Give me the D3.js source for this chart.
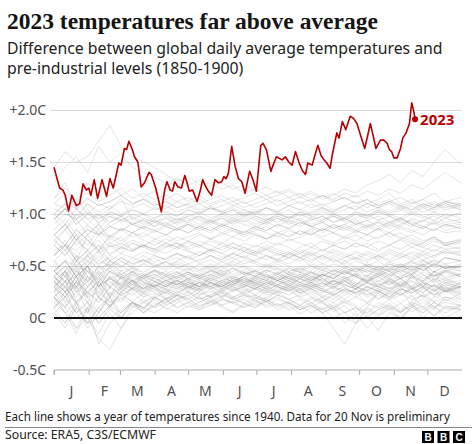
<!DOCTYPE html>
<html><head><meta charset="utf-8">
<script src="https://cdn.jsdelivr.net/npm/d3@7"></script>
<style>body{margin:0;background:#fff} svg{display:block}</style>
</head><body>
<svg id="c" width="474" height="444"></svg>
<script>
// ---------- DATA ----------
const months = ["J","F","M","A","M","J","J","A","S","O","N","D"];
const monthStartDays = [0,31,59,90,120,151,181,212,243,273,304,334];
const yTicks = [-0.5, 0, 0.5, 1.0, 1.5, 2.0];
const yTickLabels = ["-0.5C","0C","+0.5C","+1.0C","+1.5C","+2.0C"];

// 2023 (day of year, anomaly °C)
const days2023 = [0,3,5,8,10,13,16,20,23,26,29,31,33,36,39,43,47,50,53,58,60,63,65,67,70,72,75,78,81,85,87,91,96,99,101,104,106,108,111,114,117,119,121,124,128,131,133,135,138,141,144,147,150,152,154,156,159,162,165,168,171,175,178,181,185,187,190,194,196,199,204,207,210,213,216,219,222,225,227,231,233,236,239,241,244,247,249,253,255,258,261,265,268,271,275,278,283,286,288,292,295,298,300,302,304,307,310,312,315,318,320,322,323];
const values2023 = [1.45,1.33,1.25,1.23,1.18,1.03,1.18,1.08,1.10,1.29,1.23,1.25,1.18,1.33,1.15,1.33,1.17,1.34,1.25,1.49,1.47,1.63,1.62,1.70,1.62,1.55,1.50,1.26,1.30,1.40,1.38,1.25,1.02,1.23,1.31,1.23,1.22,1.31,1.26,1.25,1.37,1.30,1.22,1.23,1.12,1.23,1.33,1.28,1.22,1.18,1.33,1.30,1.31,1.36,1.34,1.39,1.65,1.46,1.34,1.31,1.20,1.41,1.33,1.22,1.66,1.68,1.62,1.41,1.47,1.55,1.52,1.55,1.50,1.47,1.60,1.50,1.42,1.38,1.49,1.47,1.55,1.66,1.56,1.53,1.49,1.44,1.57,1.78,1.73,1.89,1.81,1.94,1.92,1.87,1.73,1.63,1.87,1.73,1.63,1.71,1.71,1.68,1.62,1.60,1.54,1.54,1.63,1.73,1.78,1.87,2.07,1.98,1.91];

// earlier years 1940-2022, sampled roughly every ten days (estimated)
const greyDays = [0,10,20,30,40,50,60,70,80,90,100,110,120,130,140,150,160,170,180,190,200,210,220,230,240,250,260,270,280,290,300,310,320,330,340,350,364];
const greyYears = [1940,1941,1944,1945,1950,1951,1953,1956,1958,1961,1963,1964,1965,1968,1971,1973,1974,1976,1978,1979,1981,1983,1985,1987,1988,1990,1995,1998,2002,2005,2007,2010,2015,2016,2017,2019,2020,2021,2022,
  1942,1943,1946,1947,1948,1949,1952,1954,1955,1957,1959,1960,1962,1966,1967,1969,1970,1972,1975,1977,1980,1982,1984,1986,1989,1991,1992,1993,1994,1996,1997,1999,2000,2001,2003,2004,2006,2008,2009,2011,2012,2013,2014,2018];
const greyValues = [
[0.30,0.45,0.15,0.05,0.35,0.20,0.40,0.30,0.25,0.35,0.30,0.40,0.35,0.30,0.42,0.38,0.35,0.40,0.45,0.38,0.42,0.36,0.40,0.45,0.38,0.30,0.35,0.42,0.40,0.48,0.45,0.50,0.42,0.55,0.48,0.52,0.45],
[0.55,0.40,0.60,0.35,0.50,0.45,0.30,0.42,0.38,0.45,0.40,0.35,0.42,0.38,0.45,0.40,0.48,0.42,0.45,0.40,0.38,0.44,0.40,0.36,0.42,0.38,0.45,0.40,0.35,0.42,0.38,0.30,0.40,0.35,0.45,0.38,0.42],
[0.40,0.25,0.35,0.50,0.30,0.45,0.38,0.28,0.42,0.35,0.40,0.45,0.38,0.42,0.48,0.40,0.45,0.50,0.42,0.46,0.52,0.45,0.48,0.42,0.50,0.45,0.55,0.48,0.40,0.50,0.45,0.38,0.48,0.42,0.35,0.45,0.40],
[0.40,0.30,0.45,0.35,0.50,0.38,0.42,0.35,0.40,0.45,0.38,0.42,0.48,0.40,0.45,0.50,0.42,0.46,0.40,0.44,0.48,0.42,0.46,0.40,0.35,0.42,0.38,0.32,0.40,0.35,0.42,0.38,0.30,0.36,0.28,0.34,0.30],
[0.10,-0.05,0.15,-0.10,0.05,0.20,0.00,0.15,0.10,0.20,0.12,0.18,0.22,0.15,0.20,0.25,0.18,0.22,0.20,0.15,0.22,0.18,0.12,0.20,0.15,0.10,0.18,0.12,0.05,0.15,0.10,0.00,0.12,0.05,0.15,0.08,0.10],
[0.05,-0.05,0.10,0.00,-0.15,0.05,-0.10,0.10,0.15,0.20,0.25,0.18,0.22,0.28,0.20,0.26,0.30,0.22,0.28,0.24,0.30,0.26,0.20,0.15,0.05,-0.10,-0.25,-0.05,0.10,0.25,0.35,0.30,0.40,0.35,0.45,0.40,0.42],
[0.30,0.40,0.25,0.35,0.45,0.30,0.38,0.32,0.40,0.35,0.30,0.36,0.32,0.38,0.34,0.30,0.36,0.40,0.34,0.38,0.32,0.36,0.30,0.34,0.38,0.32,0.36,0.30,0.26,0.32,0.28,0.35,0.30,0.25,0.32,0.28,0.30],
[0.15,0.05,-0.10,0.10,-0.05,0.08,0.00,0.15,0.05,0.12,0.18,0.10,0.15,0.20,0.12,0.18,0.15,0.20,0.22,0.16,0.20,0.14,0.18,0.12,0.08,0.15,0.05,0.10,0.00,0.08,0.12,0.05,0.15,0.10,0.02,0.12,0.08],
[0.45,0.55,0.40,0.50,0.35,0.45,0.40,0.35,0.42,0.38,0.32,0.36,0.30,0.34,0.38,0.32,0.28,0.34,0.30,0.26,0.32,0.28,0.34,0.30,0.26,0.22,0.28,0.24,0.30,0.26,0.22,0.28,0.24,0.30,0.26,0.32,0.28],
[0.25,0.35,0.20,0.40,0.30,0.38,0.32,0.28,0.34,0.30,0.36,0.32,0.28,0.34,0.30,0.36,0.32,0.38,0.34,0.30,0.36,0.32,0.38,0.34,0.30,0.36,0.32,0.28,0.34,0.30,0.26,0.32,0.28,0.34,0.30,0.26,0.30],
[0.20,0.10,-0.10,0.00,-0.20,-0.30,-0.10,0.05,0.15,0.10,0.20,0.15,0.25,0.18,0.22,0.28,0.20,0.25,0.30,0.24,0.28,0.32,0.26,0.30,0.34,0.28,0.35,0.30,0.38,0.32,0.36,0.30,0.35,0.28,0.32,0.25,0.30],
[0.35,0.25,0.30,0.20,0.25,0.15,0.20,0.12,0.18,0.10,0.15,0.22,0.18,0.12,0.15,0.20,0.14,0.18,0.12,0.16,0.10,0.14,0.08,0.12,0.05,0.10,-0.05,0.05,-0.10,0.02,0.08,-0.02,0.10,0.05,0.12,0.00,0.08],
[0.05,0.15,0.00,0.10,0.20,0.12,0.18,0.25,0.15,0.22,0.28,0.20,0.25,0.18,0.22,0.26,0.20,0.24,0.28,0.22,0.26,0.30,0.24,0.28,0.22,0.18,0.26,0.20,0.15,0.24,0.18,0.22,0.28,0.20,0.25,0.30,0.22],
[0.20,0.05,-0.15,0.10,-0.25,-0.05,0.05,0.15,0.08,0.20,0.15,0.22,0.18,0.25,0.20,0.24,0.18,0.22,0.16,0.20,0.25,0.18,0.22,0.26,0.20,0.15,0.22,0.28,0.20,0.25,0.30,0.22,0.28,0.24,0.32,0.25,0.30],
[0.15,0.25,0.05,-0.05,0.10,0.00,0.08,0.15,0.05,0.12,0.18,0.10,0.15,0.08,0.12,0.18,0.14,0.10,0.16,0.12,0.18,0.14,0.10,0.15,0.08,0.12,0.05,0.10,0.02,0.08,0.14,0.06,0.12,0.18,0.10,0.15,0.12],
[0.40,0.50,0.45,0.55,0.48,0.52,0.45,0.50,0.42,0.46,0.40,0.44,0.38,0.42,0.36,0.40,0.34,0.38,0.32,0.36,0.30,0.34,0.28,0.32,0.26,0.30,0.24,0.28,0.22,0.26,0.20,0.24,0.18,0.22,0.15,0.20,0.18],
[0.05,-0.10,0.10,-0.05,0.00,0.12,0.05,0.15,0.10,0.05,0.12,0.18,0.10,0.15,0.20,0.12,0.16,0.10,0.14,0.18,0.12,0.15,0.08,0.12,0.05,0.10,0.00,-0.05,0.08,0.02,0.10,0.05,0.12,0.08,0.15,0.10,0.12],
[0.10,0.20,0.05,0.15,-0.05,0.10,0.00,0.12,0.05,0.15,0.10,0.05,0.12,0.08,0.15,0.10,0.05,0.12,0.18,0.10,0.14,0.08,0.12,0.05,0.10,0.00,0.06,-0.05,0.02,-0.12,0.05,0.00,0.10,0.15,0.08,0.20,0.15],
[0.45,0.35,0.55,0.40,0.30,0.45,0.38,0.42,0.35,0.40,0.45,0.38,0.42,0.36,0.40,0.44,0.38,0.35,0.40,0.36,0.42,0.38,0.34,0.40,0.36,0.32,0.38,0.42,0.35,0.40,0.45,0.38,0.42,0.48,0.40,0.45,0.50],
[0.20,0.10,0.25,0.15,0.05,0.20,0.28,0.22,0.30,0.25,0.32,0.28,0.34,0.30,0.36,0.32,0.38,0.34,0.36,0.40,0.36,0.42,0.38,0.44,0.40,0.46,0.42,0.48,0.44,0.50,0.46,0.52,0.48,0.55,0.50,0.58,0.55],
[0.60,0.75,0.55,0.65,0.50,0.60,0.55,0.48,0.52,0.58,0.50,0.55,0.60,0.52,0.56,0.50,0.55,0.60,0.54,0.50,0.56,0.52,0.58,0.50,0.46,0.52,0.48,0.55,0.50,0.45,0.52,0.48,0.55,0.60,0.52,0.58,0.55],
[0.75,0.65,0.80,0.70,0.85,0.72,0.78,0.65,0.70,0.62,0.68,0.72,0.65,0.60,0.66,0.62,0.58,0.64,0.60,0.56,0.62,0.58,0.55,0.60,0.52,0.58,0.50,0.45,0.52,0.48,0.40,0.50,0.55,0.45,0.52,0.48,0.50],
[0.40,0.30,0.45,0.35,0.25,0.40,0.32,0.45,0.38,0.42,0.36,0.40,0.44,0.38,0.42,0.46,0.40,0.44,0.38,0.42,0.36,0.40,0.44,0.38,0.42,0.35,0.40,0.32,0.38,0.42,0.36,0.40,0.45,0.38,0.42,0.36,0.40],
[0.45,0.55,0.50,0.60,0.52,0.58,0.50,0.55,0.60,0.54,0.58,0.62,0.56,0.60,0.65,0.58,0.62,0.68,0.64,0.70,0.66,0.62,0.68,0.72,0.65,0.70,0.74,0.68,0.72,0.66,0.70,0.75,0.68,0.72,0.78,0.70,0.74],
[0.80,0.70,0.85,0.75,0.65,0.78,0.70,0.82,0.75,0.70,0.76,0.72,0.68,0.74,0.70,0.65,0.72,0.68,0.62,0.66,0.60,0.64,0.58,0.62,0.56,0.60,0.55,0.58,0.50,0.55,0.48,0.52,0.45,0.50,0.55,0.48,0.52],
[0.60,0.70,0.55,0.80,0.65,0.72,0.68,0.75,0.70,0.66,0.72,0.68,0.74,0.70,0.65,0.72,0.68,0.64,0.70,0.66,0.72,0.68,0.62,0.68,0.64,0.70,0.66,0.72,0.68,0.74,0.70,0.76,0.72,0.68,0.74,0.70,0.72],
[0.70,0.85,0.95,0.80,0.90,0.75,0.85,0.78,0.82,0.76,0.80,0.74,0.78,0.82,0.76,0.80,0.84,0.78,0.82,0.76,0.80,0.74,0.78,0.82,0.76,0.72,0.78,0.74,0.80,0.76,0.82,0.78,0.74,0.70,0.76,0.72,0.75],
[0.95,1.05,1.15,1.00,1.10,1.05,1.12,1.08,1.15,1.10,1.05,1.12,1.08,1.02,1.06,1.00,1.04,0.98,1.02,0.96,0.92,0.98,0.94,0.88,0.92,0.86,0.90,0.84,0.80,0.86,0.78,0.82,0.76,0.72,0.78,0.70,0.74],
[0.90,1.00,0.95,1.10,0.98,1.05,1.15,0.95,1.00,0.92,0.96,0.90,0.94,0.98,0.92,0.96,0.90,0.94,0.88,0.92,0.96,0.90,0.94,0.88,0.92,0.86,0.90,0.94,0.88,0.92,0.86,0.90,0.94,0.88,0.84,0.90,0.86],
[0.95,0.85,1.00,0.90,0.80,0.92,0.98,0.90,0.94,0.88,0.96,0.92,0.98,0.94,0.90,0.96,0.92,0.98,0.94,0.90,0.96,0.92,0.88,0.94,0.98,0.92,0.96,0.90,0.94,0.98,0.92,0.96,0.90,0.94,0.98,0.92,0.95],
[1.15,1.30,1.05,0.95,1.00,0.92,0.98,0.90,0.95,0.88,0.92,0.86,0.90,0.84,0.88,0.82,0.86,0.80,0.84,0.88,0.82,0.86,0.80,0.84,0.78,0.82,0.76,0.80,0.74,0.78,0.82,0.76,0.80,0.74,0.78,0.72,0.76],
[1.00,1.10,1.05,1.15,1.08,1.12,1.18,1.10,1.14,1.08,1.12,1.06,1.10,1.04,1.08,1.02,1.06,1.00,1.04,0.98,1.02,0.96,1.00,0.94,0.98,0.92,0.96,0.90,0.94,0.88,0.92,0.96,0.90,0.86,0.92,0.84,0.88],
[0.95,1.05,0.98,1.10,1.02,1.08,1.00,1.06,1.10,1.04,1.08,1.02,1.06,1.10,1.04,1.08,1.12,1.06,1.10,1.14,1.08,1.12,1.16,1.20,1.14,1.18,1.24,1.20,1.28,1.32,1.38,1.30,1.42,1.36,1.50,1.62,1.48],
[1.45,1.60,1.50,1.55,1.70,1.85,1.65,1.55,1.50,1.45,1.38,1.32,1.36,1.28,1.30,1.24,1.28,1.20,1.24,1.18,1.22,1.16,1.20,1.14,1.18,1.12,1.16,1.10,1.14,1.08,1.12,1.16,1.10,1.14,1.20,1.12,1.16],
[1.15,1.25,1.10,1.30,1.20,1.28,1.18,1.24,1.16,1.22,1.14,1.20,1.12,1.18,1.10,1.14,1.08,1.12,1.06,1.10,1.14,1.08,1.12,1.06,1.10,1.04,1.08,1.12,1.06,1.10,1.14,1.08,1.12,1.06,1.10,1.04,1.08],
[1.10,1.05,1.15,1.20,1.12,1.18,1.25,1.15,1.20,1.14,1.18,1.12,1.16,1.10,1.14,1.18,1.12,1.16,1.20,1.14,1.18,1.22,1.16,1.12,1.18,1.14,1.20,1.16,1.22,1.18,1.24,1.20,1.28,1.24,1.32,1.40,1.30],
[1.30,1.45,1.55,1.40,1.65,1.50,1.58,1.45,1.40,1.35,1.30,1.34,1.28,1.32,1.26,1.30,1.24,1.28,1.22,1.26,1.20,1.24,1.18,1.22,1.16,1.20,1.14,1.18,1.10,1.14,1.20,1.10,1.14,1.08,1.12,1.06,1.10],
[1.05,1.00,0.95,1.02,0.96,1.00,0.94,0.98,0.92,0.96,1.00,0.94,0.98,1.02,0.96,1.00,1.04,0.98,1.02,1.06,1.00,1.04,0.98,1.02,1.06,1.00,1.04,1.08,1.02,1.06,1.10,1.04,1.08,1.02,1.06,1.10,1.04],
[1.10,1.20,1.05,1.15,1.08,1.12,1.18,1.10,1.14,1.08,1.12,1.06,1.10,1.14,1.08,1.12,1.16,1.10,1.14,1.18,1.12,1.16,1.10,1.14,1.08,1.12,1.16,1.10,1.14,1.08,1.12,1.06,1.10,1.14,1.08,1.12,1.10],
[0.25,0.45,0.30,0.50,0.20,0.40,0.28,0.45,0.35,0.30,0.42,0.32,0.38,0.28,0.40,0.34,0.30,0.42,0.36,0.32,0.40,0.30,0.38,0.44,0.34,0.28,0.38,0.32,0.42,0.30,0.36,0.26,0.40,0.30,0.45,0.25,0.35],
[0.40,0.28,0.48,0.22,0.38,0.30,0.46,0.36,0.28,0.40,0.32,0.44,0.36,0.30,0.38,0.42,0.34,0.30,0.40,0.36,0.44,0.38,0.32,0.36,0.42,0.38,0.46,0.40,0.34,0.44,0.38,0.48,0.40,0.52,0.36,0.46,0.40],
[0.35,0.20,0.40,0.15,0.30,0.10,0.25,0.35,0.22,0.30,0.18,0.26,0.32,0.22,0.28,0.20,0.26,0.30,0.22,0.18,0.26,0.22,0.28,0.20,0.16,0.24,0.18,0.26,0.14,0.22,0.18,0.26,0.12,0.24,0.16,0.28,0.20],
[0.20,0.35,0.10,0.30,0.40,0.22,0.35,0.28,0.38,0.30,0.24,0.34,0.28,0.36,0.30,0.26,0.34,0.40,0.32,0.28,0.36,0.30,0.38,0.32,0.28,0.36,0.30,0.40,0.34,0.28,0.38,0.32,0.42,0.30,0.38,0.26,0.34],
[0.35,0.25,0.40,0.20,0.32,0.15,0.28,0.36,0.24,0.30,0.22,0.28,0.34,0.26,0.30,0.24,0.32,0.28,0.22,0.30,0.26,0.32,0.24,0.28,0.20,0.26,0.30,0.22,0.28,0.18,0.26,0.22,0.30,0.20,0.28,0.16,0.24],
[0.30,0.15,0.35,0.20,0.05,0.25,0.15,0.30,0.20,0.28,0.18,0.24,0.30,0.22,0.26,0.20,0.28,0.24,0.18,0.26,0.22,0.28,0.20,0.24,0.16,0.22,0.14,0.20,0.26,0.18,0.24,0.14,0.22,0.10,0.20,0.26,0.18],
[0.20,0.30,0.15,0.25,0.35,0.20,0.30,0.38,0.26,0.32,0.28,0.36,0.30,0.26,0.34,0.30,0.38,0.32,0.28,0.36,0.32,0.40,0.34,0.30,0.38,0.32,0.36,0.28,0.34,0.40,0.32,0.38,0.30,0.42,0.34,0.38,0.32],
[0.25,0.10,0.30,0.05,0.20,0.12,0.25,0.15,0.08,0.20,0.14,0.22,0.16,0.10,0.18,0.12,0.20,0.14,0.10,0.18,0.12,0.16,0.08,0.14,0.20,0.10,0.16,0.06,0.14,0.10,0.18,0.08,0.16,0.22,0.10,0.18,0.12],
[0.20,0.05,0.15,-0.05,0.10,0.20,0.05,0.15,0.10,0.18,0.08,0.14,0.20,0.10,0.16,0.12,0.06,0.14,0.10,0.16,0.08,0.12,0.04,0.10,0.16,0.06,0.12,0.02,0.10,0.04,0.12,0.06,0.14,0.00,0.10,0.05,0.12],
[0.10,0.25,0.15,0.30,0.20,0.35,0.25,0.32,0.28,0.36,0.30,0.38,0.34,0.30,0.38,0.34,0.40,0.36,0.32,0.40,0.36,0.42,0.38,0.34,0.42,0.38,0.44,0.40,0.36,0.44,0.40,0.46,0.42,0.50,0.40,0.48,0.45],
[0.45,0.35,0.50,0.30,0.42,0.28,0.40,0.32,0.38,0.30,0.36,0.32,0.38,0.34,0.30,0.36,0.32,0.38,0.34,0.30,0.36,0.32,0.28,0.34,0.30,0.36,0.32,0.28,0.34,0.30,0.38,0.32,0.36,0.30,0.38,0.34,0.36],
[0.35,0.45,0.25,0.40,0.20,0.10,0.25,0.35,0.28,0.32,0.26,0.34,0.30,0.28,0.34,0.30,0.26,0.32,0.28,0.34,0.30,0.26,0.32,0.28,0.34,0.30,0.36,0.30,0.26,0.34,0.28,0.32,0.26,0.34,0.30,0.36,0.32],
[0.30,0.40,0.28,0.45,0.32,0.38,0.30,0.36,0.28,0.34,0.30,0.36,0.32,0.28,0.34,0.30,0.36,0.32,0.28,0.34,0.30,0.26,0.32,0.28,0.24,0.30,0.26,0.32,0.22,0.28,0.24,0.30,0.20,0.28,0.22,0.30,0.26],
[0.20,0.30,0.15,0.25,0.35,0.22,0.30,0.26,0.32,0.28,0.24,0.30,0.26,0.32,0.28,0.34,0.30,0.26,0.32,0.28,0.24,0.30,0.26,0.32,0.28,0.22,0.28,0.24,0.30,0.26,0.20,0.28,0.24,0.30,0.22,0.28,0.25],
[0.30,0.20,0.35,0.25,0.15,0.30,0.22,0.28,0.24,0.32,0.28,0.24,0.30,0.34,0.28,0.32,0.26,0.30,0.34,0.28,0.32,0.36,0.30,0.34,0.28,0.24,0.32,0.28,0.36,0.30,0.26,0.34,0.28,0.32,0.26,0.34,0.30],
[0.35,0.45,0.30,0.50,0.40,0.55,0.42,0.48,0.40,0.46,0.42,0.38,0.44,0.40,0.46,0.42,0.38,0.44,0.40,0.46,0.42,0.48,0.44,0.40,0.46,0.42,0.48,0.44,0.50,0.46,0.42,0.50,0.46,0.52,0.44,0.50,0.48],
[0.45,0.35,0.40,0.50,0.30,0.38,0.32,0.40,0.34,0.30,0.36,0.32,0.38,0.30,0.34,0.28,0.32,0.36,0.30,0.26,0.32,0.28,0.24,0.30,0.26,0.22,0.28,0.24,0.30,0.26,0.20,0.28,0.24,0.30,0.22,0.26,0.24],
[0.10,0.20,0.05,0.15,0.00,0.12,0.22,0.16,0.24,0.18,0.26,0.22,0.30,0.26,0.32,0.28,0.34,0.30,0.36,0.32,0.38,0.34,0.40,0.36,0.42,0.38,0.44,0.40,0.46,0.42,0.48,0.44,0.50,0.46,0.52,0.48,0.50],
[0.30,0.20,0.35,0.25,0.15,0.30,0.22,0.28,0.20,0.24,0.18,0.22,0.26,0.20,0.16,0.22,0.18,0.14,0.20,0.16,0.22,0.18,0.12,0.18,0.14,0.08,0.16,0.10,0.04,0.12,0.08,0.14,0.06,0.12,0.02,0.10,0.08],
[0.25,0.35,0.30,0.45,0.38,0.50,0.42,0.48,0.44,0.50,0.46,0.52,0.48,0.44,0.50,0.46,0.52,0.48,0.44,0.50,0.46,0.42,0.48,0.44,0.40,0.46,0.42,0.48,0.44,0.40,0.46,0.42,0.38,0.44,0.40,0.46,0.42],
[0.45,0.55,0.40,0.60,0.45,0.55,0.50,0.44,0.52,0.48,0.54,0.50,0.46,0.52,0.48,0.54,0.50,0.56,0.52,0.48,0.54,0.50,0.46,0.52,0.48,0.44,0.50,0.46,0.52,0.48,0.54,0.50,0.46,0.52,0.44,0.50,0.48],
[0.35,0.25,0.40,0.30,0.45,0.35,0.28,0.36,0.32,0.38,0.34,0.30,0.36,0.40,0.34,0.30,0.36,0.32,0.38,0.34,0.40,0.36,0.42,0.38,0.44,0.40,0.46,0.42,0.48,0.44,0.50,0.46,0.52,0.56,0.50,0.58,0.55],
[0.50,0.40,0.55,0.45,0.35,0.48,0.40,0.44,0.38,0.42,0.36,0.40,0.44,0.38,0.42,0.36,0.40,0.34,0.38,0.42,0.36,0.40,0.34,0.38,0.32,0.36,0.40,0.34,0.30,0.36,0.32,0.38,0.28,0.34,0.26,0.32,0.30],
[0.40,0.50,0.35,0.55,0.42,0.48,0.38,0.45,0.40,0.46,0.42,0.48,0.44,0.40,0.46,0.42,0.48,0.44,0.40,0.46,0.42,0.48,0.44,0.50,0.46,0.42,0.48,0.44,0.50,0.46,0.52,0.48,0.54,0.50,0.56,0.52,0.55],
[0.45,0.40,0.50,0.45,0.55,0.50,0.58,0.52,0.56,0.50,0.54,0.58,0.52,0.56,0.60,0.54,0.58,0.52,0.56,0.60,0.54,0.58,0.62,0.56,0.60,0.54,0.58,0.62,0.56,0.60,0.54,0.58,0.62,0.56,0.60,0.64,0.60],
[0.70,0.60,0.75,0.65,0.80,0.68,0.72,0.66,0.70,0.74,0.68,0.72,0.66,0.70,0.64,0.68,0.72,0.66,0.62,0.68,0.64,0.60,0.66,0.62,0.58,0.64,0.60,0.56,0.62,0.58,0.64,0.60,0.56,0.62,0.58,0.64,0.60],
[0.65,0.70,0.60,0.55,0.65,0.50,0.58,0.52,0.56,0.50,0.54,0.48,0.52,0.46,0.50,0.44,0.48,0.42,0.46,0.40,0.44,0.38,0.42,0.36,0.40,0.34,0.38,0.42,0.36,0.40,0.34,0.38,0.42,0.36,0.40,0.44,0.40],
[0.45,0.55,0.40,0.50,0.60,0.48,0.54,0.50,0.56,0.52,0.48,0.54,0.50,0.46,0.52,0.48,0.54,0.50,0.46,0.52,0.48,0.44,0.50,0.46,0.52,0.48,0.44,0.50,0.46,0.42,0.48,0.44,0.50,0.46,0.52,0.48,0.50],
[0.55,0.45,0.60,0.50,0.65,0.55,0.48,0.58,0.54,0.60,0.56,0.62,0.58,0.54,0.60,0.56,0.62,0.58,0.64,0.60,0.56,0.62,0.58,0.64,0.60,0.66,0.62,0.58,0.64,0.60,0.66,0.62,0.68,0.64,0.70,0.66,0.68],
[0.55,0.65,0.50,0.60,0.70,0.55,0.62,0.58,0.64,0.60,0.56,0.62,0.58,0.64,0.60,0.56,0.62,0.58,0.54,0.60,0.56,0.62,0.58,0.54,0.60,0.56,0.52,0.58,0.54,0.60,0.56,0.62,0.58,0.64,0.60,0.66,0.62],
[0.60,0.70,0.55,0.65,0.75,0.60,0.68,0.64,0.70,0.66,0.72,0.68,0.74,0.70,0.76,0.72,0.78,0.74,0.80,0.76,0.82,0.78,0.84,0.80,0.86,0.82,0.88,0.84,0.90,0.86,0.92,0.88,0.96,0.92,1.00,0.96,1.02],
[0.75,0.65,0.80,0.60,0.70,0.62,0.68,0.64,0.70,0.66,0.62,0.68,0.64,0.60,0.66,0.62,0.68,0.64,0.60,0.66,0.62,0.58,0.64,0.60,0.66,0.62,0.58,0.64,0.60,0.56,0.62,0.58,0.64,0.60,0.66,0.62,0.64],
[0.60,0.70,0.65,0.75,0.62,0.70,0.66,0.72,0.68,0.64,0.70,0.66,0.72,0.68,0.74,0.70,0.66,0.72,0.68,0.74,0.70,0.76,0.72,0.68,0.74,0.70,0.66,0.72,0.68,0.64,0.70,0.66,0.72,0.68,0.64,0.70,0.66],
[0.75,0.85,0.70,0.80,0.90,0.78,0.86,0.82,0.88,0.84,0.80,0.86,0.82,0.88,0.84,0.90,0.86,0.82,0.88,0.84,0.90,0.86,0.92,0.88,0.84,0.90,0.86,0.92,0.88,0.94,0.90,0.96,0.92,0.88,0.94,0.90,0.92],
[1.00,0.90,1.05,0.95,0.85,0.98,0.92,0.96,0.90,0.94,0.88,0.92,0.96,0.90,0.94,0.88,0.92,0.96,0.90,0.94,0.98,0.92,0.96,0.90,0.94,0.98,0.92,0.96,1.00,0.94,0.98,0.92,0.88,0.94,0.90,0.96,0.92],
[0.85,0.95,0.80,0.90,1.00,0.88,0.94,0.90,0.86,0.92,0.88,0.84,0.90,0.86,0.82,0.88,0.84,0.80,0.86,0.82,0.78,0.84,0.80,0.86,0.82,0.88,0.84,0.90,0.86,0.92,0.88,0.94,0.90,0.86,0.92,0.88,0.90],
[0.80,0.90,0.75,0.85,0.80,0.88,0.84,0.90,0.86,0.82,0.88,0.84,0.90,0.86,0.92,0.88,0.94,0.90,0.86,0.92,0.88,0.94,0.90,0.96,0.92,0.98,0.94,1.00,0.96,1.02,0.98,1.04,1.00,1.06,1.02,1.08,1.04],
[0.70,0.60,0.75,0.65,0.55,0.70,0.62,0.72,0.68,0.76,0.72,0.78,0.74,0.80,0.76,0.82,0.78,0.84,0.80,0.76,0.82,0.78,0.84,0.80,0.86,0.82,0.78,0.84,0.80,0.86,0.82,0.88,0.84,0.80,0.86,0.82,0.84],
[0.80,0.90,0.75,0.88,0.82,0.78,0.86,0.82,0.88,0.84,0.90,0.86,0.92,0.88,0.94,0.90,0.96,0.92,0.98,0.94,1.00,0.96,1.02,0.98,0.94,1.00,0.96,1.02,0.98,1.04,1.00,1.06,1.02,1.08,1.04,1.10,1.06],
[0.80,0.70,0.85,0.75,0.65,0.80,0.74,0.82,0.78,0.84,0.80,0.86,0.82,0.88,0.84,0.90,0.86,0.82,0.88,0.84,0.90,0.86,0.92,0.88,0.84,0.90,0.86,0.82,0.88,0.84,0.90,0.86,0.82,0.88,0.84,0.90,0.86],
[0.80,0.90,0.75,0.85,0.80,0.88,0.84,0.92,0.88,0.94,0.90,0.96,0.92,0.98,0.94,1.00,0.96,1.02,0.98,0.94,1.00,0.96,1.02,0.98,1.04,1.00,0.96,1.02,0.98,1.04,1.00,0.96,1.02,0.98,0.94,1.00,0.96],
[0.95,1.05,0.90,1.00,0.92,0.98,0.94,1.00,0.96,0.92,0.98,0.94,1.00,0.96,0.92,0.98,0.94,1.00,0.96,0.92,0.98,0.94,1.00,0.96,1.02,0.98,0.94,1.00,0.96,1.02,0.98,0.94,1.00,0.96,1.02,0.98,1.00],
[0.95,1.05,0.90,1.00,0.95,1.02,0.98,1.04,1.00,0.96,1.02,0.98,1.04,1.00,1.06,1.02,0.98,1.04,1.00,1.06,1.02,1.08,1.04,1.00,1.06,1.02,1.08,1.04,1.10,1.06,1.02,1.08,1.04,1.10,1.06,1.12,1.08],
[1.00,1.10,0.95,1.05,0.90,1.02,0.98,1.04,1.00,1.06,1.02,0.98,1.04,1.00,1.06,1.02,1.08,1.04,1.00,1.06,1.02,1.08,1.04,1.10,1.06,1.02,1.08,1.04,1.10,1.06,1.12,1.08,1.04,1.10,1.06,1.12,1.08]
];

const titleText = "2023 temperatures far above average";
const subtitleLines = ["Difference between global daily average temperatures and", "pre-industrial levels (1850-1900)"];
const noteText = "Each line shows a year of temperatures since 1940. Data for 20 Nov is preliminary";
const sourceText = "Source: ERA5, C3S/ECMWF";
const highlightLabel = "2023";

// ---------- DRAW ----------
const svg = d3.select("#c");
const sans = "'Noto Sans', 'Open Sans', sans-serif";
const red = "#b80000";
const x = d3.scaleLinear().domain([0, 365]).range([54, 462]);
const y = d3.scaleLinear().domain([-0.5, 2.0]).range([370, 110]);

function fitText(sel, width, node) {
  const fs = parseFloat(sel.attr("font-size"));
  const w = (node || sel.node()).getComputedTextLength();
  const nfs = fs * width / w;
  sel.attr("font-size", nfs.toFixed(2));
  return nfs;
}

// title
fitText(svg.append("text").attr("x", 7).attr("y", 29).attr("font-family", "'Liberation Serif', serif")
  .attr("font-weight", "bold").attr("font-size", 24).attr("fill", "#141414").text(titleText), 371);

// subtitle (one text, two lines)
const sub = svg.append("text").attr("font-family", sans).attr("font-size", 16).attr("fill", "#222");
const tsp = sub.selectAll("tspan").data(subtitleLines).join("tspan")
  .attr("x", 7).attr("y", (d, i) => 53.5 + i * 20).text(d => d);
fitText(sub, 436, tsp.nodes()[0]);

// gridlines
svg.append("g").selectAll("line").data(yTicks.filter(v => v > 0)).join("line")
  .attr("x1", 50).attr("x2", 462).attr("y1", d => y(d)).attr("y2", d => y(d))
  .attr("stroke", "#dcdcdc").attr("stroke-width", 1).attr("shape-rendering", "crispEdges");

// y labels
svg.append("g").selectAll("text").data(yTicks).join("text")
  .attr("x", 46).attr("y", d => y(d) + 5).attr("text-anchor", "end")
  .attr("font-family", sans).attr("font-size", 14).attr("fill", "#505050")
  .text((d, i) => yTickLabels[i]);

// grey lines (one per earlier year)
const line = d3.line().x(d => x(d[0])).y(d => y(d[1]));
svg.append("g").selectAll("path").data(greyValues).join("path")
  .attr("d", vals => line(vals.slice(0, greyDays.length).map((v, i) => [greyDays[i], v])))
  .attr("fill", "none").attr("stroke", "#8a8a8a").attr("stroke-opacity", 0.25).attr("stroke-width", 0.9);

// zero line
svg.append("line").attr("x1", 54).attr("x2", 462).attr("y1", y(0)).attr("y2", y(0))
  .attr("stroke", "#111").attr("stroke-width", 2);
svg.append("line").attr("x1", 50).attr("x2", 54).attr("y1", y(0)).attr("y2", y(0))
  .attr("stroke", "#dcdcdc").attr("stroke-width", 1);

// x axis
const xa = svg.append("g").attr("transform", `translate(0,${y(-0.5)})`)
  .call(d3.axisBottom(x).tickValues(monthStartDays).tickSize(5).tickFormat(""));
xa.select(".domain").attr("stroke", "#aaa").attr("d", `M${x(0)},5V0H${x(365)}`);
xa.selectAll(".tick line").attr("stroke", "#aaa");
svg.append("g").selectAll("text").data(months).join("text")
  .attr("x", (d, i) => x((monthStartDays[i] + (i < 11 ? monthStartDays[i + 1] : 365)) / 2))
  .attr("y", 396).attr("text-anchor", "middle")
  .attr("font-family", sans).attr("font-size", 14).attr("fill", "#505050").text(d => d);

// 2023 line
const pts = days2023.map((d, i) => [d, values2023[i]]);
svg.append("path").attr("d", line(pts)).attr("fill", "none").attr("stroke", red)
  .attr("stroke-width", 1.6).attr("stroke-linejoin", "round");
const last = pts[pts.length - 1];
svg.append("circle").attr("cx", x(last[0])).attr("cy", y(last[1])).attr("r", 3).attr("fill", red);
svg.append("text").attr("x", x(last[0]) + 5).attr("y", y(last[1]) + 5.5)
  .attr("font-family", sans).attr("font-weight", "bold").attr("font-size", 15).attr("fill", red).text(highlightLabel);

// footer
fitText(svg.append("text").attr("x", 5).attr("y", 421).attr("font-family", sans).attr("font-size", 13)
  .attr("fill", "#222").text(noteText), 445);
svg.append("line").attr("x1", 5).attr("x2", 472).attr("y1", 427.5).attr("y2", 427.5).attr("stroke", "#888").attr("stroke-width", 1);
fitText(svg.append("text").attr("x", 5).attr("y", 439).attr("font-family", sans).attr("font-size", 13)
  .attr("fill", "#222").text(sourceText), 151);

// BBC blocks
const bbc = ["B","B","C"];
const lg = svg.append("g");
bbc.forEach((c, i) => {
  lg.append("rect").attr("x", 422 + i * 15.5).attr("y", 431).attr("width", 12).attr("height", 12).attr("fill", "#000");
  lg.append("text").attr("x", 428 + i * 15.5).attr("y", 441).attr("text-anchor", "middle")
    .attr("font-family", "'Liberation Sans', Arial, sans-serif").attr("font-weight", "bold").attr("font-size", 10).attr("fill", "#fff").text(c);
});
</script>
</body></html>
